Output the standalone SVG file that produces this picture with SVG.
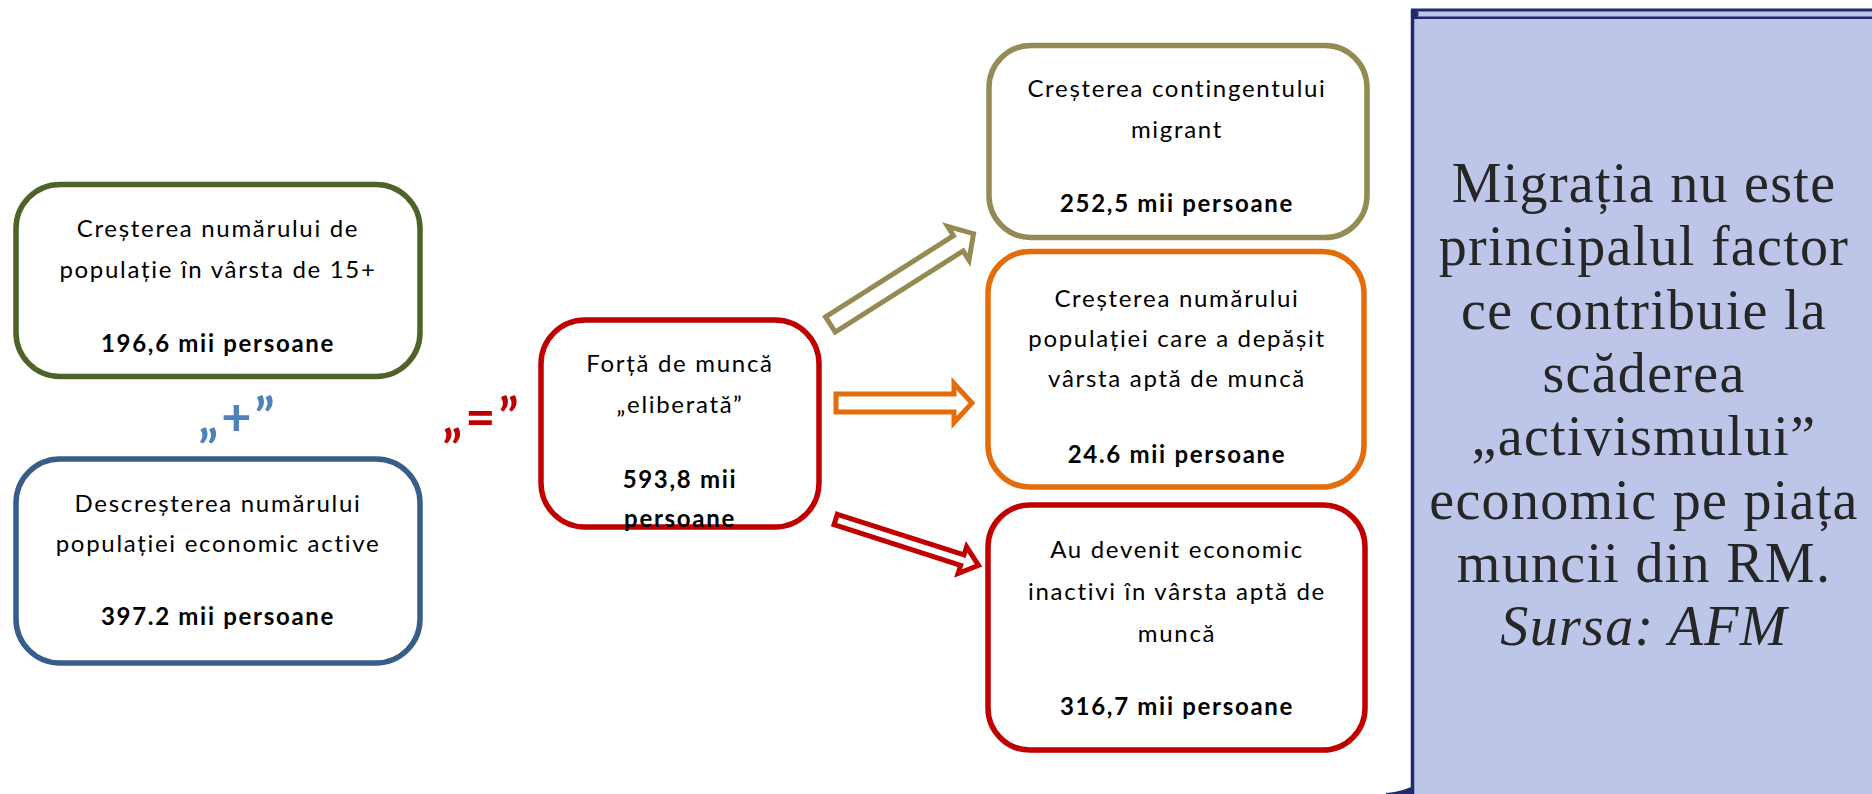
<svg xmlns="http://www.w3.org/2000/svg" width="1872" height="794" viewBox="0 0 1872 794">
<style>
.box{fill:#fff;stroke-width:5.5}
.t{font-family:Lato,"Liberation Sans",sans-serif;font-size:24px;fill:#000;text-anchor:middle;letter-spacing:1.7px}
.b{font-weight:bold}
.op{font-family:Lato,"Liberation Sans",sans-serif;font-size:52px;font-weight:bold;text-anchor:middle;letter-spacing:3px}
.arr{fill:#fff;stroke-width:5;stroke-linejoin:miter;stroke-miterlimit:10}
.s{font-family:"Liberation Serif",serif;font-size:56px;fill:#262626;text-anchor:middle;letter-spacing:1.3px}
</style>
<rect width="1872" height="794" fill="#fff"/>

<g id="panel">
<rect x="1412" y="10" width="470" height="800" fill="#BDC5E8"/>
<line x1="1412.5" y1="10" x2="1412.5" y2="794" stroke="#1F2B6A" stroke-width="3.5"/>
<line x1="1411" y1="10" x2="1872" y2="10" stroke="#1F2B6A" stroke-width="3"/>
<line x1="1414" y1="17.8" x2="1872" y2="17.8" stroke="#1F2B6A" stroke-width="2.5"/>
<circle cx="1415" cy="14" r="3.5" fill="#1F2B6A"/>
<path d="M1414,785 C1410,788 1400,792 1386,793 L1386,794 L1414,794 Z" fill="#1F2B6A"/>
<text class="s" x="1644" y="202">Migrația nu este</text>
<text class="s" x="1644" y="265">principalul factor</text>
<text class="s" x="1644" y="329">ce contribuie la</text>
<text class="s" x="1644" y="392">scăderea</text>
<text class="s" x="1644" y="455">„activismului”</text>
<text class="s" x="1644" y="519">economic pe piața</text>
<text class="s" x="1644" y="582">muncii din RM.</text>
<text class="s" x="1644" y="645" font-style="italic">Sursa: AFM</text>
</g>

<g id="connectors">
<polygon class="arr" stroke="#948A54" transform="translate(830.4,324.5) rotate(-32.4)" points="0,-9 151.5,-9 151.5,-20 169.5,0 151.5,20 151.5,9 0,9"/>
<polygon class="arr" stroke="#E46C0A" transform="translate(836,403)" points="0,-9 118,-9 118,-19.5 136,0 118,19.5 118,9 0,9"/>
<polygon class="arr" stroke="#C00000" transform="translate(835.7,519.5) rotate(17.8)" points="0,-5.5 133,-5.5 133,-14 150,0 133,14 133,5.5 0,5.5"/>
</g>

<g id="n-crestere15">
<rect class="box" stroke="#4F6228" x="16" y="184.5" width="404" height="192" rx="44"/>
<text class="t" x="218" y="237">Creșterea numărului de</text>
<text class="t" x="218" y="278">populație în vârsta de 15+</text>
<text class="t b" x="218" y="352">196,6 mii persoane</text>
</g>

<g id="op-plus">
<text class="op" x="238" y="435" fill="#4F81BD">„+”</text>
</g>

<g id="n-descrestere">
<rect class="box" stroke="#385D8A" x="16" y="459" width="404" height="204" rx="44"/>
<text class="t" x="218" y="512">Descreșterea numărului</text>
<text class="t" x="218" y="552">populației economic active</text>
<text class="t b" x="218" y="625">397.2 mii persoane</text>
</g>

<g id="op-equal">
<text class="op" x="482" y="435" fill="#C00000">„=”</text>
</g>

<g id="n-forta">
<rect class="box" stroke="#C00000" x="541" y="320" width="278" height="207" rx="44"/>
<text class="t" x="680" y="372">Forță de muncă</text>
<text class="t" x="680" y="413">„eliberată”</text>
<text class="t b" x="680" y="488">593,8 mii</text>
<text class="t b" x="680" y="527">persoane</text>
</g>

<g id="n-migrant">
<rect class="box" stroke="#948A54" x="989" y="45.5" width="378" height="192" rx="42"/>
<text class="t" x="1177" y="97">Creșterea contingentului</text>
<text class="t" x="1177" y="138">migrant</text>
<text class="t b" x="1177" y="212">252,5 mii persoane</text>
</g>

<g id="n-varsta">
<rect class="box" stroke="#E46C0A" x="988" y="251.5" width="376" height="235.5" rx="42"/>
<text class="t" x="1177" y="307">Creșterea numărului</text>
<text class="t" x="1177" y="347">populației care a depășit</text>
<text class="t" x="1177" y="387">vârsta aptă de muncă</text>
<text class="t b" x="1177" y="463">24.6 mii persoane</text>
</g>

<g id="n-inactivi">
<rect class="box" stroke="#C00000" x="988" y="505" width="377" height="245" rx="42"/>
<text class="t" x="1177" y="558">Au devenit economic</text>
<text class="t" x="1177" y="600">inactivi în vârsta aptă de</text>
<text class="t" x="1177" y="642">muncă</text>
<text class="t b" x="1177" y="715">316,7 mii persoane</text>
</g>
</svg>
